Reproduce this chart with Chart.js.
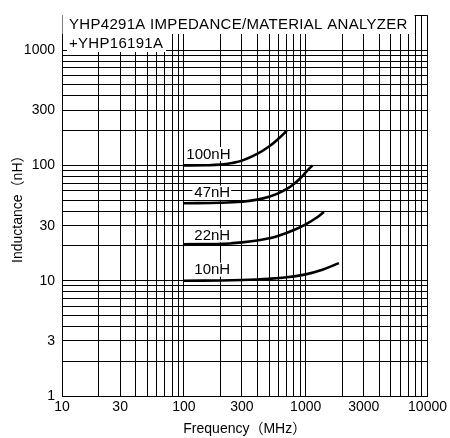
<!DOCTYPE html>
<html lang="en">
<head>
  <meta charset="UTF-8" />
  <title>Inductance vs Frequency</title>
  <script src="https://cdn.jsdelivr.net/npm/chart.js"></script>
  <style>
    body { margin: 0; background: #fff; }
    canvas { display: block; }
  </style>
</head>
<body>
  <canvas id="chart" width="450" height="438"></canvas>

  <script>
    // tick labels shown on the axes
    const xTickLabels = [10, 30, 100, 300, 1000, 3000, 10000];
    const yTickLabels = [1, 3, 10, 30, 100, 300, 1000];

    // curves (MHz -> nH)
    const freq100 = [100, 150, 200, 250, 300, 400, 500, 600, 700];
    const ind100  = [100, 100.3, 101.5, 105, 110, 126, 146, 171, 200];

    const freq47 = [100, 200, 300, 400, 500, 600, 700, 800, 900, 1000, 1135];
    const ind47  = [47, 47.4, 48.4, 50.5, 53.5, 57.5, 62.5, 69, 77, 87, 100];

    const freq22 = [100, 200, 300, 400, 500, 600, 800, 1000, 1200, 1413];
    const ind22  = [20.7, 20.9, 21.5, 22.3, 23.3, 24.5, 27.5, 30.8, 34.6, 39.5];

    const freq10 = [100, 200, 300, 500, 700, 1000, 1370, 1875];
    const ind10  = [10, 10.05, 10.15, 10.4, 10.7, 11.35, 12.45, 14.2];

    const curveLabels = ['100nH', '47nH', '22nH', '10nH'];
    const titleLines = ['YHP4291A IMPEDANCE/MATERIAL ANALYZER', '+YHP16191A'];

    const FONT = '"Liberation Sans", Arial, "Noto Sans CJK JP", sans-serif';
    Chart.defaults.font.family = FONT;
    Chart.defaults.color = '#000';

    function toPoints(xs, ys) {
      return xs.map((x, i) => ({ x: x, y: ys[i] }));
    }

    function logGrid(min, max) {
      const vals = [];
      for (let d = min; d < max; d *= 10) {
        for (let m = 1; m <= 9; m++) {
          if (m * d <= max) vals.push(m * d);
        }
      }
      if (vals[vals.length - 1] !== max) vals.push(max);
      return vals.map(v => ({ value: v }));
    }

    // white boxes with text on top of the grid
    const notes = {
      id: 'notes',
      afterDatasetsDraw(chart) {
        const ctx = chart.ctx;
        const xs = chart.scales.x, ys = chart.scales.y;
        ctx.save();
        ctx.fillStyle = '#fff';
        ctx.fillRect(chart.chartArea.left + 0.5, 14, 352, 20);
        ctx.fillRect(67, 34, 99, 18);
        ctx.fillStyle = '#000';
        ctx.font = '15px ' + FONT;
        ctx.letterSpacing = '0.3px';
        ctx.textBaseline = 'alphabetic';
        ctx.fillText(titleLines[0], 69, 29);
        ctx.fillText(titleLines[1], 69, 48);

        const starts = [ind100[0], ind47[0], ind22[0], ind10[0]];
        const offs = [[2.5, -11.5], [10.5, -10.5], [10.5, -9], [10.5, -11]];
        ctx.font = '15px ' + FONT;
        ctx.letterSpacing = '0px';
        ctx.textBaseline = 'middle';
        curveLabels.forEach((t, i) => {
          const px = xs.getPixelForValue(freq100[0]) + offs[i][0];
          const py = ys.getPixelForValue(starts[i]) + offs[i][1];
          const w = ctx.measureText(t).width;
          ctx.fillStyle = '#fff';
          ctx.fillRect(px - 2, py - 7, w + 3, 14);
          ctx.fillStyle = '#000';
          ctx.fillText(t, px, py + 0.5);
        });
        ctx.restore();
      }
    };

    const lineStyle = {
      borderColor: '#000',
      borderWidth: 2.6,
      pointRadius: 0,
      fill: false,
      tension: 0.4
    };

    const gridOpts = { color: '#000', lineWidth: 1, drawTicks: false };

    new Chart(document.getElementById('chart').getContext('2d'), {
      type: 'line',
      data: {
        datasets: [
          Object.assign({ label: '100nH', data: toPoints(freq100, ind100) }, lineStyle),
          Object.assign({ label: '47nH', data: toPoints(freq47, ind47) }, lineStyle),
          Object.assign({ label: '22nH', data: toPoints(freq22, ind22) }, lineStyle),
          Object.assign({ label: '10nH', data: toPoints(freq10, ind10) }, lineStyle)
        ]
      },
      options: {
        responsive: false,
        animation: false,
        layout: { padding: { left: 0, right: 21, top: 10, bottom: 0 } },
        plugins: { legend: { display: false }, tooltip: { enabled: false } },
        scales: {
          x: {
            type: 'logarithmic',
            min: 10,
            max: 10000,
            afterBuildTicks: s => { s.ticks = logGrid(10, 10000); },
            afterFit: s => { s.height = 42; },
            grid: gridOpts,
            border: { color: '#000', width: 1 },
            ticks: {
              autoSkip: false,
              maxRotation: 0,
              padding: 3,
              font: { size: 14 },
              callback: v => xTickLabels.includes(v) ? String(v) : ''
            },
            title: {
              display: true,
              text: 'Frequency（MHz）',
              font: { size: 14 },
              padding: { top: 0, bottom: 0 }
            }
          },
          y: {
            type: 'logarithmic',
            min: 1,
            max: 2000,
            afterBuildTicks: s => { s.ticks = logGrid(1, 2000); },
            afterFit: s => { s.width = 62; },
            grid: gridOpts,
            border: { color: '#000', width: 1 },
            ticks: {
              autoSkip: false,
              padding: 7,
              font: { size: 14 },
              callback: v => yTickLabels.includes(v) ? String(v) : ''
            },
            title: {
              display: true,
              text: 'Inductance（nH）',
              font: { size: 14 },
              padding: { top: 10, bottom: 0 }
            }
          }
        }
      },
      plugins: [notes]
    });
  </script>
</body>
</html>
